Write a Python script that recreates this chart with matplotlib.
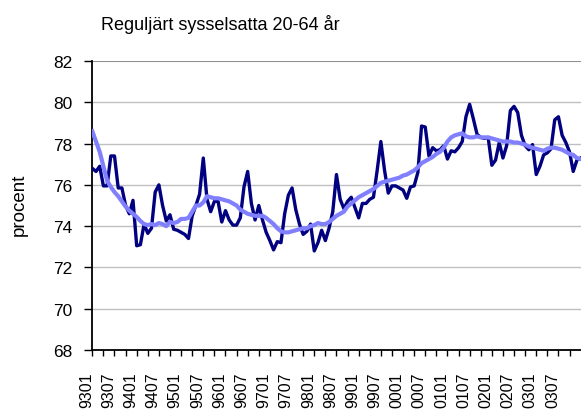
import numpy as np
import matplotlib.pyplot as plt
import matplotlib.transforms as mtransforms

plt.rcParams['font.family'] = ['Liberation Sans', 'DejaVu Sans']

# monthly values, 199301 .. 200401
faktisk = [76.8, 76.65, 76.9, 75.95, 75.95, 77.4, 77.4, 75.85, 75.85, 75.0, 74.6, 75.25,
           73.05, 73.1, 74.1, 73.65, 73.9, 75.65, 76.0, 75.0, 74.25, 74.55, 73.85, 73.8,
           73.7, 73.6, 73.4, 74.5, 75.0, 75.55, 77.3, 75.3, 74.7, 75.2, 75.2, 74.2,
           74.75, 74.3, 74.05, 74.05, 74.4, 75.9, 76.65, 75.1, 74.3, 75.0, 74.3, 73.7,
           73.3, 72.85, 73.25, 73.2, 74.6, 75.5, 75.85, 74.8, 74.1, 73.6, 73.75, 74.1,
           72.8, 73.2, 73.8, 73.3, 73.9, 74.7, 76.5, 75.3, 74.85, 75.2, 75.4, 74.9,
           74.4, 75.1, 75.1, 75.3, 75.4, 76.7, 78.1, 76.7, 75.6, 75.95, 75.95, 75.85,
           75.75, 75.35, 75.9, 75.95, 76.6, 78.85, 78.8, 77.4, 77.8, 77.65, 77.7, 77.9,
           77.25, 77.65, 77.6, 77.8, 78.1, 79.3, 79.9, 79.2, 78.45, 78.3, 78.25, 78.3,
           76.95, 77.2, 78.05, 77.3, 77.9, 79.6, 79.8, 79.5, 78.4, 77.9, 77.7, 77.95,
           76.5, 76.9, 77.45, 77.55, 77.75, 79.15, 79.3, 78.4, 78.05, 77.6, 76.65, 77.2,
           77.3]
trend = [78.6, 78.1, 77.6, 76.9, 76.2, 75.9, 75.65, 75.45, 75.2, 74.95, 74.75, 74.6,
         74.45, 74.25, 74.1, 74.05, 74.1, 74.05, 74.15, 74.1, 74.0, 74.2, 74.15, 74.2,
         74.35, 74.35, 74.4, 74.7, 75.0, 75.0, 75.15, 75.45, 75.4, 75.35, 75.35, 75.3,
         75.25, 75.2, 75.1, 75.0, 74.8, 74.7, 74.6, 74.55, 74.5, 74.5, 74.5, 74.4,
         74.25, 74.1, 73.9, 73.75, 73.7, 73.7, 73.75, 73.8, 73.85, 73.9, 73.9, 74.0,
         74.05, 74.15, 74.1, 74.1, 74.2, 74.35, 74.5, 74.6, 74.7, 74.95, 75.1, 75.25,
         75.4, 75.5, 75.6, 75.7, 75.8, 75.95, 76.1, 76.15, 76.2, 76.25, 76.3, 76.35,
         76.45, 76.5, 76.6, 76.7, 76.85, 77.05, 77.15, 77.25, 77.35, 77.5, 77.6, 77.8,
         78.1, 78.3, 78.4, 78.45, 78.5, 78.35, 78.3, 78.3, 78.35, 78.3, 78.3, 78.3,
         78.25, 78.2, 78.15, 78.1, 78.1, 78.1, 78.05, 78.05, 78.0, 77.95, 77.85, 77.8,
         77.75, 77.7, 77.65, 77.75, 77.8, 77.8, 77.75, 77.7, 77.6, 77.5, 77.45, 77.3,
         77.25]

# labels as seen below the axis (yymm)
manader = ['%02d%02d' % ((1993 + k // 12) % 100, k % 12 + 1) for k in range(len(faktisk))]
x = np.arange(len(faktisk))

fig = plt.figure(figsize=(5.81, 4.10), dpi=100)
ax = fig.add_axes([92.3 / 581, 1 - 351 / 410, 1 - 92.3 / 581, (351 - 62) / 410])

for g in range(70, 81, 2):
    ax.axhline(g, color='#c0c0c0', lw=1, zorder=1)
ax.axhline(82, color='#909090', lw=1.5, zorder=1)

ax.plot(x, faktisk, color='#000080', lw=2.4, zorder=3)
ax.plot(x, trend, color='#8080ff', lw=3, zorder=4)

ax.set_xlim(0, 132.1)
ax.set_ylim(68, 82)
ax.set_yticks(range(68, 83, 2))
ax.tick_params(axis='y', direction='out', length=6, width=1, labelsize=12.5, pad=8)

xt = list(range(0, 130, 3))
ax.set_xticks(xt)
ax.set_xticklabels([manader[t] if t % 6 == 0 else '' for t in xt], rotation=90,
                   fontsize=11.5)
ax.tick_params(axis='x', direction='out', length=4.5, width=1, pad=11)
skift = mtransforms.ScaledTranslation(-6 / 100, 0, fig.dpi_scale_trans)
for lab in ax.get_xticklabels():
    lab.set_transform(lab.get_transform() + skift)

for s in ['top', 'right']:
    ax.spines[s].set_visible(False)
ax.spines['left'].set_linewidth(1.3)
ax.spines['bottom'].set_linewidth(1.3)

fig.text(220 / 581, 1 - 25 / 410, 'Reguljärt sysselsatta 20-64 år', ha='center',
         va='center', fontsize=13)
fig.text(19 / 581, 1 - 205 / 410, 'procent', rotation=90, ha='center', va='center',
         fontsize=13.5)

fig.savefig('out.png', dpi=100)
